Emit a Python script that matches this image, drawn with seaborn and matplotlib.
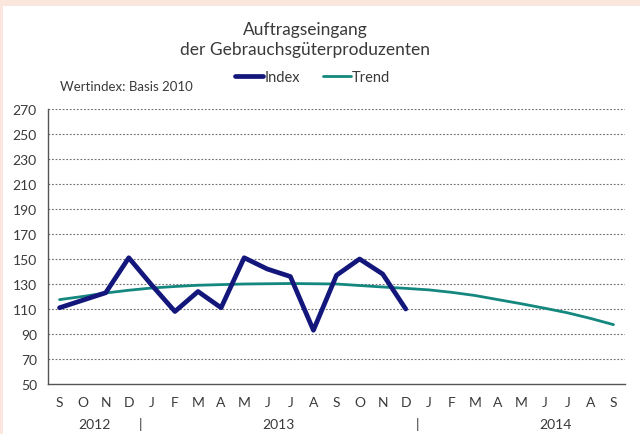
import matplotlib
matplotlib.use("Agg")
import matplotlib.pyplot as plt
import matplotlib.transforms as mtransforms
from matplotlib.patches import Rectangle
import seaborn as sns
import pandas as pd

# Monthly labels, September 2012 to September 2014
months = ["S", "O", "N", "D", "J", "F", "M", "A", "M", "J", "J", "A",
          "S", "O", "N", "D", "J", "F", "M", "A", "M", "J", "J", "A", "S"]
years = ["2012", "2013", "2014"]
year_centers = [2.0, 10.0, 22.0]
year_breaks = [4, 16]

# Order intake index (value index, 2010 = 100), Sep 2012 - Dec 2013
index_values = [111, 117, 123, 151, 129, 108, 124, 111, 151, 142, 136, 93,
                137, 150, 138, 110]
# Trend component, Sep 2012 - Sep 2014
trend_values = [117.5, 120, 122.8, 125, 126.8, 128, 129, 129.5, 130, 130.2,
                130.4, 130.2, 130, 128.8, 127.6, 126.5, 125.3, 123.3, 120.8,
                117.5, 114.2, 110.7, 107, 102.5, 97.5]
y_ticks = list(range(50, 271, 20))

sns.set_style("white")
plt.rcParams["font.family"] = ["Lato", "DejaVu Sans"]

idx_df = pd.DataFrame({"pos": [i + 0.5 for i in range(len(index_values))],
                       "value": index_values})
trd_df = pd.DataFrame({"pos": [i + 0.5 for i in range(len(trend_values))],
                       "value": trend_values})

fig = plt.figure(figsize=(6.4, 4.35), dpi=100)
fig.patch.set_facecolor("white")
# light frame strip along the top and left edges
fig.patches.append(Rectangle((0, 1 - 7 / 435), 1, 7 / 435, transform=fig.transFigure,
                             facecolor="#fbe6dd", edgecolor="none", zorder=0))
fig.patches.append(Rectangle((0, 0), 3 / 640, 1, transform=fig.transFigure,
                             facecolor="#fbe6dd", edgecolor="none", zorder=0))

ax = fig.add_axes([48 / 640, 1 - 385 / 435, (625 - 48) / 640, (385 - 110) / 435])
ax.set_facecolor("white")

text_col = "#3a3a3a"
navy = "#13177c"
teal = "#14877f"

sns.lineplot(data=trd_df, x="pos", y="value", ax=ax, color=teal, linewidth=2.0,
             label="Trend", zorder=3)
sns.lineplot(data=idx_df, x="pos", y="value", ax=ax, color=navy, linewidth=3.4,
             label="Index", zorder=4)

ax.set_xlim(0, 25)
ax.set_ylim(50, 270)
ax.set_xlabel("")
ax.set_ylabel("")

for y in y_ticks[1:]:
    ax.axhline(y, color="#707070", linewidth=0.8, linestyle=(0, (1.6, 1.6)), zorder=1)

for side in ["top", "right"]:
    ax.spines[side].set_visible(False)
for side in ["left", "bottom"]:
    ax.spines[side].set_color("#555555")
    ax.spines[side].set_linewidth(1.0)

ax.set_yticks(y_ticks)
ax.set_yticklabels([str(v) for v in y_ticks])
ax.tick_params(axis="y", direction="out", length=5, width=1, color="#555555",
               labelsize=10, labelcolor=text_col, pad=3)

ax.set_xticks(range(26))
ax.set_xticklabels([""] * 26)
ax.tick_params(axis="x", which="major", direction="inout", length=8, width=1,
               color="#555555")
ax.set_xticks([i + 0.5 for i in range(len(months))], minor=True)
ax.set_xticklabels(months, minor=True)
ax.tick_params(axis="x", which="minor", length=0, labelsize=10,
               labelcolor=text_col, pad=9)

trans = mtransforms.blended_transform_factory(ax.transData, fig.transFigure)
for label, xc in zip(years, year_centers):
    ax.text(xc, 1 - 425 / 435, label, transform=trans, ha="center", va="center",
            fontsize=10, color=text_col)
for xb in year_breaks:
    ax.text(xb, 1 - 425 / 435, "|", transform=trans, ha="center", va="center",
            fontsize=10, color=text_col)

fig.text(305 / 640, 1 - 30 / 435, "Auftragseingang", ha="center", va="center",
         fontsize=12.5, color=text_col)
fig.text(305 / 640, 1 - 50 / 435, "der Gebrauchsgüterproduzenten", ha="center",
         va="center", fontsize=12.5, color=text_col)
fig.text(60 / 640, 1 - 87 / 435, "Wertindex: Basis 2010", ha="left", va="center",
         fontsize=9.5, color=text_col)

handles, labels = ax.get_legend_handles_labels()
order = [labels.index("Index"), labels.index("Trend")]
leg = ax.legend([handles[i] for i in order], [labels[i] for i in order],
                loc="center left", bbox_to_anchor=(235 / 640, 1 - 78 / 435),
                bbox_transform=fig.transFigure, ncol=2, frameon=False,
                handlelength=1.9, handletextpad=0.1, columnspacing=1.6,
                fontsize=10.5, borderpad=0, borderaxespad=0)
for t in leg.get_texts():
    t.set_color(text_col)

fig.savefig("out.png", dpi=100, facecolor=fig.get_facecolor())
